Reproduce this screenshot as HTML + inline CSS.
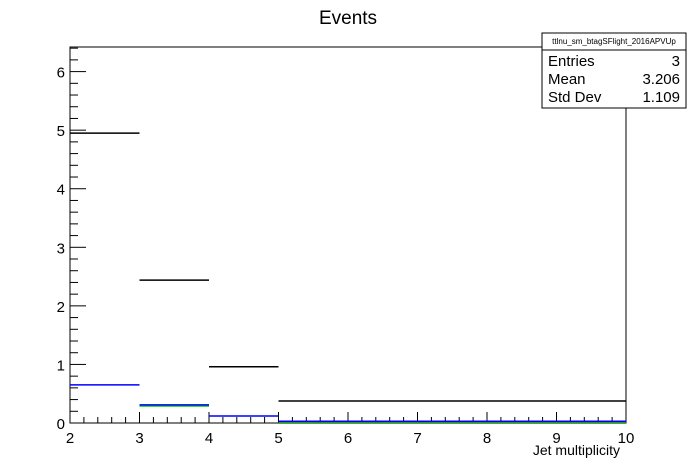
<!DOCTYPE html>
<html><head><meta charset="utf-8"><style>
body{margin:0;background:#fff;}
svg{display:block;font-family:"Liberation Sans",sans-serif;}
</style></head><body>
<svg id="c" width="696" height="472" xmlns="http://www.w3.org/2000/svg">
<rect x="0" y="0" width="696" height="472" fill="#fff"/>
<text x="348" y="24" font-size="19" text-anchor="middle">Events</text>
<rect x="70" y="47" width="556" height="376" fill="none" stroke="#000" stroke-width="1"/>
<g id="axes"></g>
<g id="series"></g>
<text x="620" y="455" font-size="14" text-anchor="end">Jet multiplicity</text>
<g>
<rect x="542" y="33" width="144" height="75" fill="#fff" stroke="#000"/>
<line x1="542" y1="50" x2="686" y2="50" stroke="#000"/>
<text x="614" y="44" font-size="8" text-anchor="middle">ttlnu_sm_btagSFlight_2016APVUp</text>
<text x="548" y="66" font-size="15">Entries</text>
<text x="680" y="66" font-size="15" text-anchor="end">3</text>
<text x="548" y="84" font-size="15">Mean</text>
<text x="680" y="84" font-size="15" text-anchor="end">3.206</text>
<text x="548" y="102" font-size="15">Std Dev</text>
<text x="680" y="102" font-size="15" text-anchor="end">1.109</text>
</g>
</svg>
<script>
const binEdges=[2,3,4,5,10];
const blackValues=[4.95,2.44,0.96,0.375];
const blueValues=[0.65,0.31,0.12,0.03];
const greenValues=[0.0,0.29,0.0,0.015];
const xTicks=[2,3,4,5,6,7,8,9,10];
const yTicks=[0,1,2,3,4,5,6];
const X0=70,X1=626,Y0=423,Y1=47,XMIN=2,XMAX=10,YMAX=6.42;
const sx=v=>X0+(v-XMIN)/(XMAX-XMIN)*(X1-X0);
const sy=v=>Y0-v/YMAX*(Y0-Y1);
const NS="http://www.w3.org/2000/svg";
const axes=document.getElementById('axes'),series=document.getElementById('series');
function ln(p,x1,y1,x2,y2,c,w){const l=document.createElementNS(NS,'line');l.setAttribute('x1',x1);l.setAttribute('y1',y1);l.setAttribute('x2',x2);l.setAttribute('y2',y2);l.setAttribute('stroke',c);l.setAttribute('stroke-width',w||1);p.appendChild(l);return l;}
function tx(p,x,y,s,a){const t=document.createElementNS(NS,'text');t.setAttribute('x',x);t.setAttribute('y',y);t.setAttribute('font-size',15);t.setAttribute('text-anchor',a);t.textContent=s;p.appendChild(t);return t;}
// x ticks
for(let v=2;v<=10.001;v+=0.2){const major=Math.abs(v-Math.round(v))<1e-6;const t=ln(axes,sx(v),Y0,sx(v),Y0-(major?11:6),'#000');

}
xTicks.forEach(v=>{const t=tx(axes,sx(v),443,String(v),'middle');

});
for(let v=0;v<=YMAX;v+=0.2){const major=Math.abs(v-Math.round(v))<1e-6;const t=ln(axes,X0,sy(v),X0+(major?16:8),sy(v),'#000');

}
yTicks.forEach(v=>{const t=tx(axes,X0-5,sy(v)+6,String(v),'end');

});
function drawSeries(vals,color,name){vals.forEach((v,i)=>{if(v<=0)return;const l=ln(series,sx(binEdges[i]),sy(v),sx(binEdges[i+1]),sy(v),color,1.5);

});}
drawSeries(greenValues,'#00cc00','green');
drawSeries(blueValues,'#0000ff','blue');
drawSeries(blackValues,'#000000','black');
</script>
</body></html>
